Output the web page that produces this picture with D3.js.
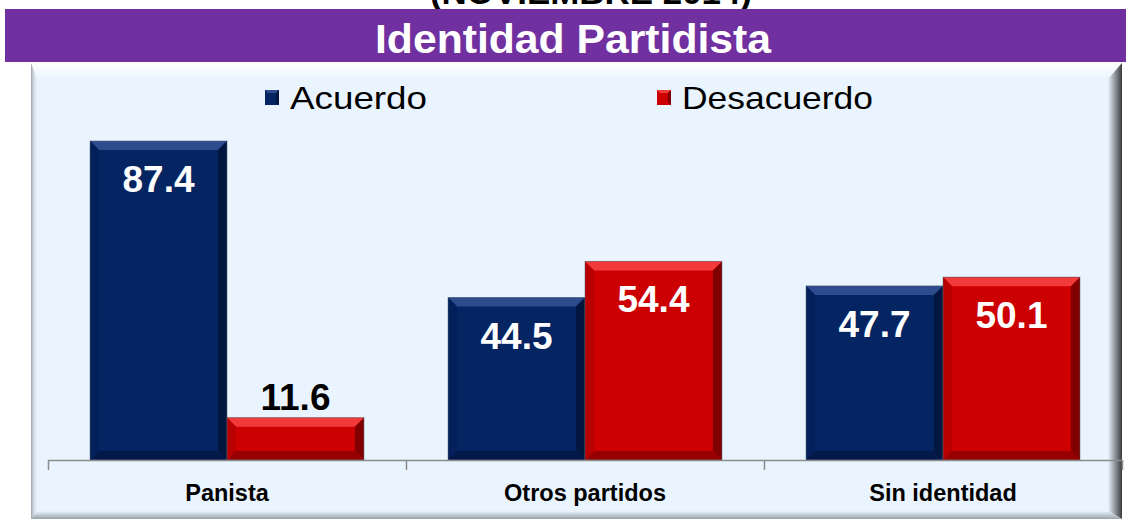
<!DOCTYPE html>
<html>
<head>
<meta charset="utf-8">
<script src="https://cdn.jsdelivr.net/npm/d3@7"></script>
<style>
  body { margin: 0; background: #fff; }
  svg { display: block; font-family: "Liberation Sans", Arial, sans-serif; }
</style>
</head>
<body>
<svg id="chart" width="1126" height="519"></svg>
<script>
// data
const categories = ["Panista", "Otros partidos", "Sin identidad"];
const seriesNames = ["Acuerdo", "Desacuerdo"];
const acuerdo = [87.4, 44.5, 47.7];
const desacuerdo = [11.6, 54.4, 50.1];

const colors = {
  Acuerdo: { base: "#042462", light: "#2c4c8e", dark: "#021640", side: "#03205a" },
  Desacuerdo: { base: "#cc0000", light: "#f23a3a", dark: "#800000", side: "#b80000" }
};

const svg = d3.select("#chart");
const W = 1126, H = 519;
const defs = svg.append("defs");

function lg(id, x2, y2, stops) {
  const g = defs.append("linearGradient").attr("id", id)
    .attr("x1", 0).attr("y1", 0).attr("x2", x2).attr("y2", y2);
  stops.forEach(s => g.append("stop").attr("offset", s[0]).attr("stop-color", s[1]).attr("stop-opacity", s[2] == null ? 1 : s[2]));
}
lg("panelTop", 0, 1, [[0, "#ffffff"], [1, "#eaf4fe"]]);
lg("panelLeft", 1, 0, [[0, "#9aa3ad"], [0.4, "#cfd6de"], [1, "#eaf4fe"]]);
lg("panelRight", 1, 0, [[0, "#eaf4fe"], [0.5, "#8e959c"], [1, "#3a3d40"]]);
lg("panelBottom", 0, 1, [[0, "#eaf4fe"], [1, "#9aa2aa"]]);

// cut-off subtitle at the very top (only its lower part shows, as in the source)
svg.append("text")
  .attr("x", 591).attr("y", 4)
  .attr("text-anchor", "middle")
  .attr("font-size", 34).attr("font-weight", "bold")
  .attr("fill", "#000")
  .attr("textLength", 322).attr("lengthAdjust", "spacingAndGlyphs")
  .text("(NOVIEMBRE 2014)");

// purple banner
svg.append("rect").attr("x", 5).attr("y", 9).attr("width", W - 5).attr("height", 53).attr("fill", "#7030a0");
svg.append("text")
  .attr("x", 573).attr("y", 53)
  .attr("text-anchor", "middle")
  .attr("font-size", 41).attr("font-weight", "bold")
  .attr("fill", "#fff")
  .attr("textLength", 396).attr("lengthAdjust", "spacingAndGlyphs")
  .text("Identidad Partidista");

// chart panel
const px0 = 31, py0 = 63, px1 = 1122, py1 = 519;
svg.append("rect").attr("x", px0).attr("y", py0).attr("width", px1 - px0).attr("height", py1 - py0).attr("fill", "#eaf4fe");
svg.append("polygon").attr("points", [[px0, py0], [px1, py0], [px1 - 14, py0 + 16], [px0 + 6, py0 + 16]].join(" ")).attr("fill", "url(#panelTop)");
svg.append("polygon").attr("points", [[px0, py0], [px0 + 6, py0 + 16], [px0 + 6, py1 - 8], [px0, py1]].join(" ")).attr("fill", "url(#panelLeft)");
svg.append("polygon").attr("points", [[px1, py0], [px1, py1], [px1 - 14, py1 - 8], [px1 - 14, py0 + 16]].join(" ")).attr("fill", "url(#panelRight)");
svg.append("polygon").attr("points", [[px0, py1], [px0 + 6, py1 - 8], [px1 - 14, py1 - 8], [px1, py1]].join(" ")).attr("fill", "url(#panelBottom)");

// scales
const x = d3.scaleBand().domain(categories).range([48, 1122]).padding(0);
const xs = d3.scaleBand().domain(seriesNames).range([0, x.bandwidth()]).paddingInner(0).paddingOuter(0.307);
const y = d3.scaleLinear().domain([0, 100]).range([460, 95]);

// legend
const legendX = { Acuerdo: 265, Desacuerdo: 657 };
const legendW = { Acuerdo: 137, Desacuerdo: 191 };
seriesNames.forEach(s => {
  const g = svg.append("g").attr("transform", `translate(${legendX[s]},90)`);
  g.append("rect").attr("width", 14).attr("height", 15).attr("fill", colors[s].base);
  g.append("polygon").attr("points", "0,0 14,0 11,3 3,3").attr("fill", colors[s].light);
  g.append("polygon").attr("points", "14,0 14,15 11,12 11,3").attr("fill", colors[s].dark);
  g.append("text").attr("x", 25).attr("y", 19)
    .attr("font-size", 32).attr("fill", "#000")
    .attr("textLength", legendW[s]).attr("lengthAdjust", "spacingAndGlyphs")
    .text(s);
});

// bars
const rows = categories.map((c, i) => ({ cat: c, values: [
  { s: "Acuerdo", v: acuerdo[i] },
  { s: "Desacuerdo", v: desacuerdo[i] }
]}));

const b = 9;
const groups = svg.selectAll("g.cat").data(rows).join("g")
  .attr("class", "cat")
  .attr("transform", d => `translate(${x(d.cat)},0)`);

const bars = groups.selectAll("g.bar").data(d => d.values).join("g").attr("class", "bar");

bars.each(function(d) {
  const g = d3.select(this);
  const x0 = xs(d.s), w = xs.bandwidth();
  const y0 = y(d.v), y1 = y(0);
  const c = colors[d.s];
  g.append("rect").attr("x", x0).attr("y", y0).attr("width", w).attr("height", y1 - y0).attr("fill", c.base);
  g.append("polygon").attr("points", [[x0, y0], [x0 + w, y0], [x0 + w - b, y0 + b], [x0 + b, y0 + b]].join(" ")).attr("fill", c.light);
  g.append("polygon").attr("points", [[x0, y0], [x0 + b, y0 + b], [x0 + b, y1 - b], [x0, y1]].join(" ")).attr("fill", c.side);
  g.append("polygon").attr("points", [[x0 + w, y0], [x0 + w, y1], [x0 + w - b, y1 - b], [x0 + w - b, y0 + b]].join(" ")).attr("fill", c.dark);
  g.append("polygon").attr("points", [[x0, y1], [x0 + b, y1 - b], [x0 + w - b, y1 - b], [x0 + w, y1]].join(" ")).attr("fill", c.dark).attr("opacity", 0.7);
  g.append("rect").attr("x", x0).attr("y", y0).attr("width", w).attr("height", y1 - y0)
    .attr("fill", "none").attr("stroke", "#55606e").attr("stroke-opacity", 0.5).attr("stroke-width", 1);

  const inside = (y1 - y0) > 60;
  g.append("text")
    .attr("x", x0 + w / 2)
    .attr("y", inside ? y0 + 51 : y0 - 8)
    .attr("text-anchor", "middle")
    .attr("font-size", 37).attr("font-weight", "bold")
    .attr("fill", inside ? "#fff" : "#000")
    .text(d.v.toFixed(1));
});

// axis
const axisG = svg.append("g");
axisG.append("line").attr("x1", 48).attr("x2", 1122).attr("y1", 460.5).attr("y2", 460.5)
  .attr("stroke", "#8c8c8c").attr("stroke-width", 1.5);
const tickXs = categories.map(c => x(c)).concat([x.range()[1]]);
axisG.selectAll("line.tick").data(tickXs).join("line")
  .attr("class", "tick")
  .attr("x1", d => d + 0.5).attr("x2", d => d + 0.5)
  .attr("y1", 460).attr("y2", 470)
  .attr("stroke", "#8c8c8c").attr("stroke-width", 1.5);

svg.append("g").attr("transform", "translate(0,460)")
  .call(d3.axisBottom(x).tickSize(0).tickPadding(0))
  .call(g => g.select(".domain").remove())
  .selectAll("text")
  .attr("y", 41)
  .attr("dy", 0)
  .attr("font-size", 23.5).attr("font-weight", "bold")
  .attr("font-family", "Liberation Sans, Arial, sans-serif")
  .attr("fill", "#000");
</script>
</body>
</html>
